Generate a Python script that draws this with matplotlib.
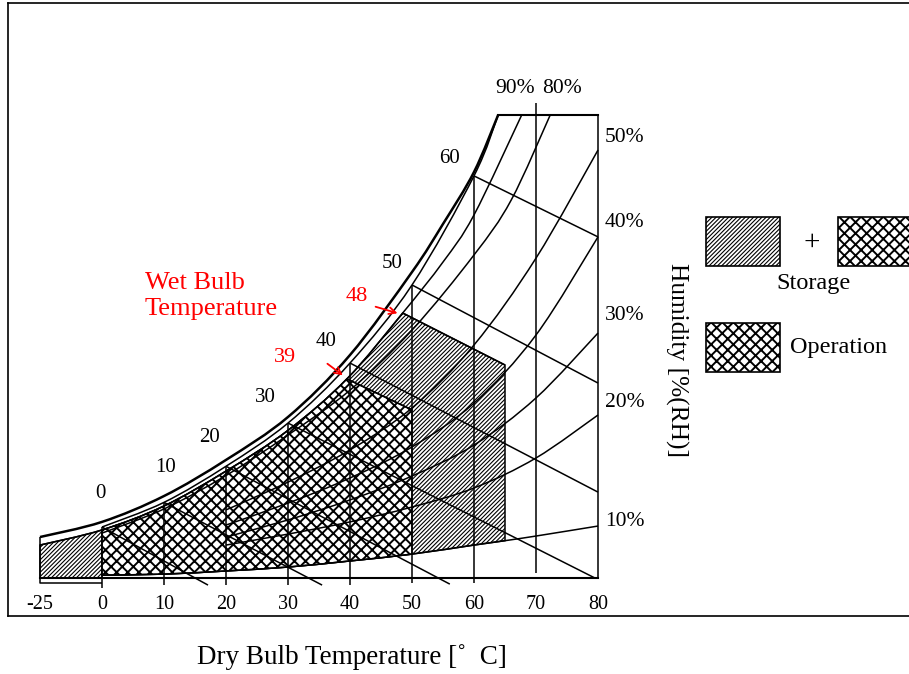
import numpy as np
import matplotlib
matplotlib.use("Agg")
import matplotlib.pyplot as plt
from matplotlib.patches import Rectangle, PathPatch
from matplotlib.path import Path

plt.rcParams['font.family'] = ['Liberation Serif', 'DejaVu Serif']

# dry bulb temperature [C] -> humidity (chart units)
sat_t = [-25, 0, 10, 20, 30, 40, 50, 55, 60, 63.9]
sat_h = [16.8, 23.0, 33.6, 48.4, 66.0, 91.4, 125.4, 145.1, 166.4, 189.8]

sat2_t = [0, 10, 20, 30, 40, 50, 60, 63.9]
sat2_h = [20.9, 31.0, 45.8, 63.5, 88.1, 120.1, 164.8, 189.8]

rh90_t = [-25, 0, 10, 20, 30, 39.5, 48.5, 55, 60, 67.7]
rh90_h = [13.5, 19.7, 29.5, 43.8, 60.5, 81.6, 108.6, 129.5, 148.8, 189.8]

rh80_t = [0, 10, 20, 30, 40, 50, 60, 66, 72.3]
rh80_h = [18.4, 28.3, 42.0, 58.6, 77.0, 101.6, 132.4, 154.9, 189.8]

rh_t = [20, 30, 40, 50, 60, 70, 80]
rh50_h = [27.9, 39.3, 52.5, 69.7, 95.5, 131.1, 175.4]
rh40_h = [21.7, 30.7, 41.0, 53.7, 71.7, 99.6, 139.8]
rh30_h = [16.8, 23.8, 32.0, 41.8, 54.5, 73.8, 100.4]
rh20_h = [13.5, 18.0, 23.0, 29.1, 36.9, 49.2, 66.8]

rh10_t = [0, 10, 20, 30, 40, 50, 60, 65, 70, 80]
rh10_h = [1.2, 1.6, 2.9, 4.5, 7.0, 9.8, 13.5, 15.3, 17.2, 21.3]

# wet bulb lines: start on saturation line, end where they leave the chart
wb_t = [0, 10, 20, 30, 40, 50, 60]
wb_end_t = [17.1, 35.5, 56.1, 79.5, 80, 80, 80]
wb_end_h = [-2.9, -2.9, -2.5, 0, 35.2, 79.9, 139.8]
wb_labels = ['0', '10', '20', '30', '40', '50', '60']
wb_lab_t = [-0.3, 10.2, 17.4, 26.3, 36.1, 46.8, 56.1]
wb_lab_h = [34.8, 45.1, 57.4, 73.8, 97.1, 129.1, 172.1]

# wet bulb limits for operation and storage: start T, end T, end humidity
op_wb = (39.5, 50, 68.9)
st_wb = (48.5, 65, 87.3)

# dry bulb grid lines
db_t = [0, 10, 20, 30, 40, 50, 60, 70, 80]
db_bottom = [-4.1, -2.9, -2.9, -2.9, -2.9, -2.0, -2.0, 2.0, 0]
top_h = 189.8

x_ticks = [-25, 0, 10, 20, 30, 40, 50, 60, 70, 80]
rh_labels = ['50%', '40%', '30%', '20%', '10%']
rh_lab_h = [180.7, 145.9, 107.4, 72.1, 23.0]


def xs(t):
    t = np.asarray(t, dtype=float)
    return np.where(t < 0, 0.4 * t, t)


def bez_segments(t, h):
    # smooth curve through the read points (cubic pieces)
    p = np.column_stack([xs(t), h])
    n = len(p)
    segs = []
    for i in range(n - 1):
        p0, p1, p2, p3 = p[max(i - 1, 0)], p[i], p[i + 1], p[min(i + 2, n - 1)]
        segs.append((p1, p1 + (p2 - p0) / 6, p2 - (p3 - p1) / 6, p2))
    return segs


def curve(ax, t, h, lw=1.1, z=5):
    segs = bez_segments(t, h)
    verts = [segs[0][0]]
    codes = [Path.MOVETO]
    for s in segs:
        verts += [s[1], s[2], s[3]]
        codes += [Path.CURVE4] * 3
    ax.add_patch(PathPatch(Path(verts, codes), fill=False, edgecolor='black',
                           lw=lw, zorder=z, capstyle='butt'))


def region(t_hi, wb):
    # area under the 90% line up to the wet bulb limit, above the 10% line
    top = [s for s in bez_segments(rh90_t, rh90_h) if s[0][0] >= 0 and s[3][0] <= t_hi]
    bot = [s for s in bez_segments(rh10_t, rh10_h) if s[3][0] <= wb[1]]
    verts = [bot[0][0], top[0][0]]
    codes = [Path.MOVETO, Path.LINETO]
    for s in top:
        verts += [s[1], s[2], s[3]]
        codes += [Path.CURVE4] * 3
    verts += [(wb[1], wb[2]), bot[-1][3]]
    codes += [Path.LINETO, Path.LINETO]
    for s in reversed(bot):
        verts += [s[2], s[1], s[0]]
        codes += [Path.CURVE4] * 3
    verts.append(bot[0][0])
    codes.append(Path.CLOSEPOLY)
    return Path(verts, codes)


fig = plt.figure(figsize=(9.09, 6.74), dpi=100)
ax = fig.add_axes([8 / 909, 1 - 616 / 674, 901 / 909, 613 / 674])
ax.set_xlim(-15.16, 130.16)
ax.set_ylim(-15.57, 235.66)
ax.set_xticks([])
ax.set_yticks([])
ax.spines['right'].set_visible(False)
for s in ['left', 'top', 'bottom']:
    ax.spines[s].set_linewidth(1.2)

lw = 1.1
k = dict(color='black', lw=lw, zorder=5, solid_capstyle='butt')

# --- hatched regions
with plt.rc_context({'hatch.linewidth': 0.8}):
    ax.add_patch(PathPatch(region(st_wb[0], st_wb), facecolor='white', edgecolor='black',
                           hatch='////////', lw=lw, zorder=2))
    left = [s for s in bez_segments(rh90_t, rh90_h) if s[3][0] <= 0][0]
    box = Path([(xs(-25), 0), left[0], left[1], left[2], left[3], (0, 0), (xs(-25), 0)],
               [Path.MOVETO, Path.LINETO, Path.CURVE4, Path.CURVE4, Path.CURVE4,
                Path.LINETO, Path.CLOSEPOLY])
    ax.add_patch(PathPatch(box, facecolor='white', edgecolor='black', hatch='////////',
                           lw=lw, zorder=2))
    ax.add_patch(Rectangle((97.4, 127.9), 12.0, 20.1, facecolor='white', edgecolor='black',
                           hatch='////////', lw=1.2))
with plt.rc_context({'hatch.linewidth': 1.4}):
    ax.add_patch(PathPatch(region(op_wb[0], op_wb), facecolor='white', edgecolor='black',
                           hatch='xxx', lw=lw, zorder=3))
    ax.add_patch(Rectangle((118.7, 127.9), 12.0, 20.1, facecolor='white', edgecolor='black',
                           hatch='xxx', lw=1.2))
    ax.add_patch(Rectangle((97.4, 84.4), 12.0, 20.1, facecolor='white', edgecolor='black',
                           hatch='xxx', lw=1.2))

# --- humidity curves
curve(ax, sat_t, sat_h, lw=1.8, z=6)
curve(ax, sat2_t, sat2_h)
curve(ax, rh90_t, rh90_h)
curve(ax, rh80_t, rh80_h)
for h in [rh50_h, rh40_h, rh30_h, rh20_h]:
    curve(ax, rh_t, h)
curve(ax, rh10_t, rh10_h)

# --- wet bulb lines
for t0, t1, h1 in zip(wb_t, wb_end_t, wb_end_h):
    h0 = np.interp(t0, sat2_t, sat2_h)
    ax.plot(xs([t0, t1]), [h0, h1], **k)
for t0, t1, h1 in [op_wb, st_wb]:
    h0 = np.interp(t0, rh90_t, rh90_h)
    ax.plot(xs([t0, t1]), [h0, h1], **k)

# --- dry bulb lines
for t, b in zip(db_t, db_bottom):
    if t <= 60:
        top = np.interp(t, sat2_t, sat2_h)
    elif t == 70:
        top = 194.7
    else:
        top = top_h
    ax.plot(xs([t, t]), [b, top], **k)
ax.plot(xs([sat_t[-1], 80]), [top_h, top_h], color='black', lw=1.5, zorder=5)

# baseline and the box below zero
ax.plot(xs([-25, 80]), [0, 0], color='black', lw=1.5, zorder=5)
ax.plot(xs([-25, -25, 0]), [sat_h[0], -2.0, -2.0], **k)

# --- text
for t in x_ticks:
    ax.text(xs(t), -10.7, str(t), ha='center', va='center', fontsize=14.5)
for lab, h in zip(rh_labels, rh_lab_h):
    ax.text(81.1, h, lab, ha='left', va='center', fontsize=15.5)
ax.text(66.6, 200.8, '90%', ha='center', va='center', fontsize=15.5)
ax.text(74.2, 200.8, '80%', ha='center', va='center', fontsize=15.5)
for lab, t, h in zip(wb_labels, wb_lab_t, wb_lab_h):
    ax.text(t, h, lab, ha='center', va='center', fontsize=15)

ax.text(6.9, 115.6, 'Wet Bulb\nTemperature', color='red', ha='left', va='center',
        fontsize=19, linespacing=1.2)
ax.text(41.1, 115.2, '48', color='red', ha='center', va='center', fontsize=16)
ax.text(29.5, 90.2, '39', color='red', ha='center', va='center', fontsize=16)
arrow = dict(arrowstyle='->', color='red', lw=1.3, mutation_scale=12)
ax.annotate('', xy=(48.1, 108.2), xytext=(43.7, 111.5), arrowprops=arrow, zorder=7)
ax.annotate('', xy=(39.2, 82.4), xytext=(36.0, 88.5), arrowprops=arrow, zorder=7)

ax.text(92.7, 89.3, 'Humidity [%(RH)]', rotation=270, ha='center', va='center',
        fontsize=18.3)
ax.text(40.3, -32.4, 'Dry Bulb Temperature [\u02da  C]', ha='center', va='center',
        fontsize=19.5, clip_on=False)

# --- legend text
ax.text(114.4, 137.3, '+', ha='center', va='center', fontsize=21)
ax.text(114.8, 120.5, 'Storage', ha='center', va='center', fontsize=17.5)
ax.text(111.0, 94.3, 'Operation', ha='left', va='center', fontsize=17.5)

fig.savefig('out.png', dpi=100)
